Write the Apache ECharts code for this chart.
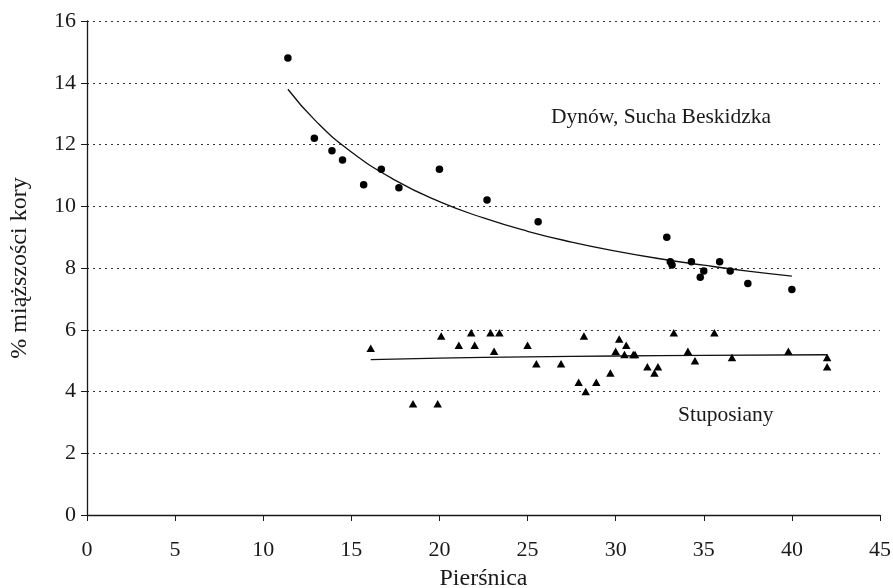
<!DOCTYPE html>
<html>
<head>
    <meta charset="utf-8" />
    <title>% miąższości kory</title>
    <script src="https://cdn.jsdelivr.net/npm/echarts@6/dist/echarts.min.js"></script>
    <style>
        body { margin: 0; background: #fff; }
    </style>
</head>
<body>
    <div id="main" style="width: 893px;height:588px;"></div>
    <script type="text/javascript">
        // Dynów, Sucha Beskidzka - punkty (piersnica, % kory)
        var dynowX = [11.4, 12.9, 13.9, 14.5, 15.7, 16.7, 17.7, 20.0, 22.7, 25.6, 32.9, 33.1, 33.2, 34.3, 34.8, 35.0, 35.9, 36.5, 37.5, 40.0];
        var dynowY = [14.8, 12.2, 11.8, 11.5, 10.7, 11.2, 10.6, 11.2, 10.2, 9.5, 9.0, 8.2, 8.1, 8.2, 7.7, 7.9, 8.2, 7.9, 7.5, 7.3];
        // linia trendu
        var dynowTrendX = [11.4, 13, 15, 17.5, 20, 22.5, 25, 27.5, 30, 32.5, 35, 37.5, 40];
        var dynowTrendY = [13.79, 12.75, 11.76, 10.84, 10.15, 9.62, 9.19, 8.84, 8.55, 8.30, 8.09, 7.90, 7.74];

        // Stuposiany
        var stupX = [16.1, 18.5, 19.9, 20.1, 21.1, 21.8, 22.0, 22.9, 23.1, 23.4, 25.0, 25.5, 26.9, 27.9, 28.2, 28.3, 28.9, 29.7, 30.0, 30.2, 30.5, 30.6, 31.0, 31.1, 31.8, 32.2, 32.4, 33.3, 34.1, 34.5, 35.6, 36.6, 39.8, 42.0, 42.0];
        var stupY = [5.4, 3.6, 3.6, 5.8, 5.5, 5.9, 5.5, 5.9, 5.3, 5.9, 5.5, 4.9, 4.9, 4.3, 5.8, 4.0, 4.3, 4.6, 5.3, 5.7, 5.2, 5.5, 5.2, 5.2, 4.8, 4.6, 4.8, 5.9, 5.3, 5.0, 5.9, 5.1, 5.3, 5.1, 4.8];
        var stupTrendX = [16.1, 20, 25, 30, 35, 42];
        var stupTrendY = [5.03, 5.08, 5.12, 5.15, 5.17, 5.19];

        var xTicks = [0, 5, 10, 15, 20, 25, 30, 35, 40, 45];
        var yTicks = [0, 2, 4, 6, 8, 10, 12, 14, 16];

        function pairs(xs, ys) {
            var out = [];
            for (var i = 0; i < xs.length; i++) out.push([xs[i], ys[i]]);
            return out;
        }

        var serif = "'Liberation Serif', 'DejaVu Serif', serif";
        var myChart = echarts.init(document.getElementById("main"));
        var option = {
            animation: false,
            backgroundColor: '#fff',
            grid: { left: 87, right: 13, top: 21, bottom: 73, outerBoundsMode: 'none' },
            textStyle: { fontFamily: serif },
            xAxis: {
                type: 'value',
                min: xTicks[0],
                max: xTicks[xTicks.length - 1],
                interval: 5,
                name: 'Pierśnica',
                nameLocation: 'middle',
                nameGap: 52,
                nameTextStyle: { fontFamily: serif, fontSize: 24, color: '#1a1a1a' },
                axisLine: { lineStyle: { color: '#1a1a1a', width: 1.3 } },
                axisTick: { show: true, length: 6, lineStyle: { color: '#1a1a1a' } },
                axisLabel: { fontFamily: serif, fontSize: 22, color: '#1a1a1a', margin: 24 },
                splitLine: { show: false }
            },
            yAxis: {
                type: 'value',
                min: yTicks[0],
                max: yTicks[yTicks.length - 1],
                interval: 2,
                name: '% miąższości kory',
                nameLocation: 'middle',
                nameGap: 55,
                nameTextStyle: { fontFamily: serif, fontSize: 24, color: '#1a1a1a' },
                axisLine: { show: true, lineStyle: { color: '#1a1a1a', width: 1.3 } },
                axisTick: { show: true, length: 6, lineStyle: { color: '#1a1a1a' } },
                axisLabel: { fontFamily: serif, fontSize: 22, color: '#1a1a1a', margin: 11 },
                splitLine: { show: true, lineStyle: { color: '#333', type: [2, 4], width: 1.2 } }
            },
            series: [
                {
                    type: 'scatter',
                    data: pairs(dynowX, dynowY),
                    symbol: 'circle',
                    symbolSize: 7.5,
                    itemStyle: { color: '#000', opacity: 1 },
                    z: 3
                },
                {
                    type: 'line',
                    data: pairs(dynowTrendX, dynowTrendY),
                    smooth: true,
                    showSymbol: false,
                    lineStyle: { color: '#111', width: 1.3 }
                },
                {
                    type: 'scatter',
                    data: pairs(stupX, stupY),
                    symbol: 'triangle',
                    symbolSize: [8.5, 7.5],
                    itemStyle: { color: '#000', opacity: 1 },
                    z: 3
                },
                {
                    type: 'line',
                    data: pairs(stupTrendX, stupTrendY),
                    smooth: true,
                    showSymbol: false,
                    lineStyle: { color: '#111', width: 1.3 }
                }
            ],
            graphic: [
                {
                    type: 'text',
                    left: 551,
                    top: 106,
                    style: { text: 'Dynów, Sucha Beskidzka', font: '21.5px ' + serif, fill: '#1a1a1a' }
                },
                {
                    type: 'text',
                    left: 678,
                    top: 404,
                    style: { text: 'Stuposiany', font: '21.5px ' + serif, fill: '#1a1a1a' }
                }
            ]
        };
        myChart.setOption(option);
    </script>
</body>
</html>
